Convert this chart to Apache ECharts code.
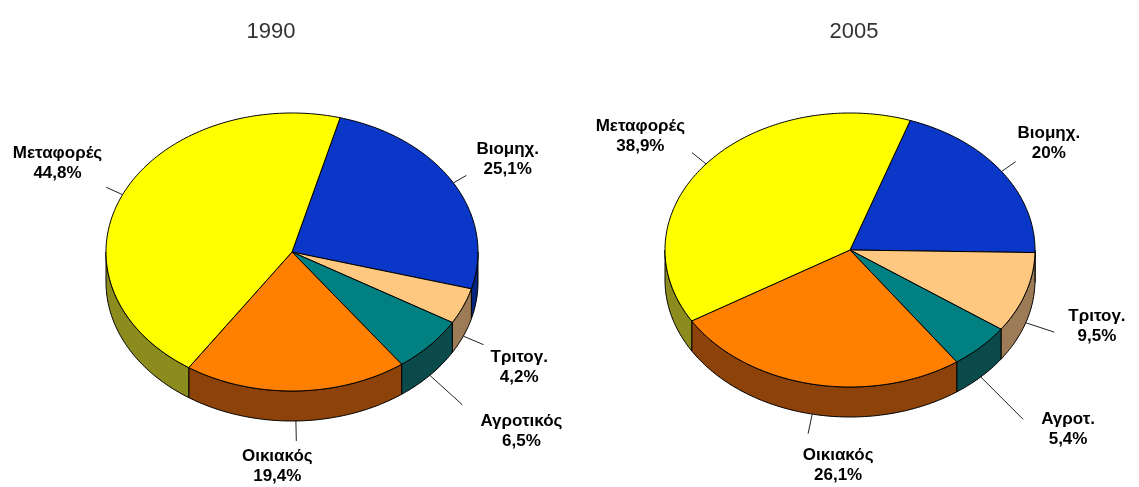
<!DOCTYPE html>
<html>
<head>
<meta charset="utf-8">
<script src="https://cdn.jsdelivr.net/npm/echarts@6/dist/echarts.min.js"></script>
<style>
  html, body { margin: 0; padding: 0; background: #fff; }
  #chart { width: 1139px; height: 487px; }
</style>
</head>
<body>
<div id="chart"></div>
<script>
// Energy consumption share by sector, 1990 and 2005
const sectors1990 = ['Βιομηχ.', 'Τριτογ.', 'Αγροτικός', 'Οικιακός', 'Μεταφορές'];
const shares1990 = [25.1, 4.2, 6.5, 19.4, 44.8];
const sectors2005 = ['Βιομηχ.', 'Τριτογ.', 'Αγροτ.', 'Οικιακός', 'Μεταφορές'];
const shares2005 = [20, 9.5, 5.4, 26.1, 38.9];
const years = ['1990', '2005'];

// Slice colours (top face) and the darker shade used on the rim
const topColors = ['#0A37C8', '#FFC880', '#008080', '#FF8000', '#FFFF00'];
const sideColors = ['#06237E', '#9C7B56', '#0A4A4A', '#8C4208', '#8C8C1E'];

const LABEL_FONT = 'bold 17px "Liberation Sans", Arial, sans-serif';
const LINE_H = 20;
const TITLE_FONT = '22px "Liberation Sans", Arial, sans-serif';

const measureCtx = document.createElement('canvas').getContext('2d');
function textWidth(str) {
  measureCtx.font = LABEL_FONT;
  return measureCtx.measureText(str).width;
}

function pct(v) {
  return String(v).replace('.', ',') + '%';
}

// Build a tilted (elliptical) pie with a rim, drawn by a custom series
function pie3d(values, names, geo) {
  const total = values.reduce((a, b) => a + b, 0);
  let acc = 0;
  const data = values.map(v => { const d = [v, acc]; acc += v; return d; });
  const rad = Math.PI / 180;
  const pt = (t, dy) => [geo.cx + geo.rx * Math.cos(t * rad), geo.cy + geo.ry * Math.sin(t * rad) + (dy || 0)];

  return {
    type: 'custom',
    coordinateSystem: 'none',
    silent: true,
    animation: false,
    data: data,
    renderItem: function (params, api) {
      const i = params.dataIndex;
      const v = api.value(0);
      const s = api.value(1);
      // angles measured clockwise from the +x axis (screen coordinates)
      const t0 = geo.start - 90 + s / total * 360;
      const t1 = t0 + v / total * 360;
      const children = [];

      // top face
      const top = [[geo.cx, geo.cy]];
      const steps = Math.max(2, Math.ceil(t1 - t0));
      for (let k = 0; k <= steps; k++) top.push(pt(t0 + (t1 - t0) * k / steps));
      children.push({
        type: 'polygon', z2: 10,
        shape: { points: top },
        style: { fill: topColors[i], stroke: '#000', lineWidth: 1, lineJoin: 'round' }
      });

      // visible rim (front half of the ellipse)
      for (let m = -1; m <= 1; m++) {
        const a = Math.max(t0, 360 * m), b = Math.min(t1, 360 * m + 180);
        if (b - a <= 0.01) continue;
        const n = Math.max(2, Math.ceil(b - a));
        const upper = [], lower = [];
        for (let k = 0; k <= n; k++) {
          const t = a + (b - a) * k / n;
          upper.push(pt(t));
          lower.push(pt(t, geo.depth));
        }
        children.push({
          type: 'polygon', z2: 5,
          shape: { points: upper.concat(lower.reverse()) },
          style: { fill: sideColors[i], stroke: '#000', lineWidth: 1, lineJoin: 'round' }
        });
      }

      // leader line and label
      const tm = (t0 + t1) / 2;
      const c = Math.cos(tm * rad), sn = Math.sin(tm * rad);
      const front = sn > 0;
      const p0 = pt(tm, front ? geo.depth : 0);
      const len = geo.leader[i];
      const p1 = [p0[0] + c * len, p0[1] + sn * len];
      children.push({
        type: 'polyline', z2: 20,
        shape: { points: [p0, p1] },
        style: { stroke: '#222', lineWidth: 1, fill: null }
      });
      const lines = [names[i], pct(v)];
      const w = Math.max.apply(null, lines.map(textWidth));
      const h = LINE_H * lines.length;
      const nudge = geo.nudge[i] || [0, 0];
      let x, y;
      if (Math.abs(c) < 0.3) x = p1[0];
      else if (c > 0) x = p1[0] + 2 + w / 2;
      else x = p1[0] - 2 - w / 2;
      if (sn < 0) y = p1[1] - h;
      else y = p1[1];
      children.push({
        type: 'text', z2: 20,
        style: {
          text: lines.join('\n'),
          x: x + nudge[0], y: y + nudge[1],
          font: LABEL_FONT, fill: '#000',
          align: 'center', verticalAlign: 'top', lineHeight: LINE_H
        }
      });
      return { type: 'group', children: children };
    }
  };
}

const chart = echarts.init(document.getElementById('chart'));
chart.setOption({
  backgroundColor: '#fff',
  animation: false,
  graphic: [
    { type: 'text', x: 271, y: 32, style: { text: years[0], font: TITLE_FONT, fill: '#333', align: 'center', verticalAlign: 'middle' } },
    { type: 'text', x: 854, y: 32, style: { text: years[1], font: TITLE_FONT, fill: '#333', align: 'center', verticalAlign: 'middle' } }
  ],
  series: [
    pie3d(shares1990, sectors1990, {
      cx: 292, cy: 252, rx: 186, ry: 139, depth: 30, start: 15,
      leader: [15, 22, 44, 20, 18],
      nudge: [[8, 4], [5, 3], [16, 6], [-19, 5], [-2, -4]]
    }),
    pie3d(shares2005, sectors2005, {
      cx: 850, cy: 250, rx: 185, ry: 137, depth: 30, start: 19,
      leader: [17, 30, 60, 20, 18],
      nudge: [[0, 2], [12, -26], [16, -10], [30, 12], [-5, 4]]
    })
  ]
});
</script>
</body>
</html>
